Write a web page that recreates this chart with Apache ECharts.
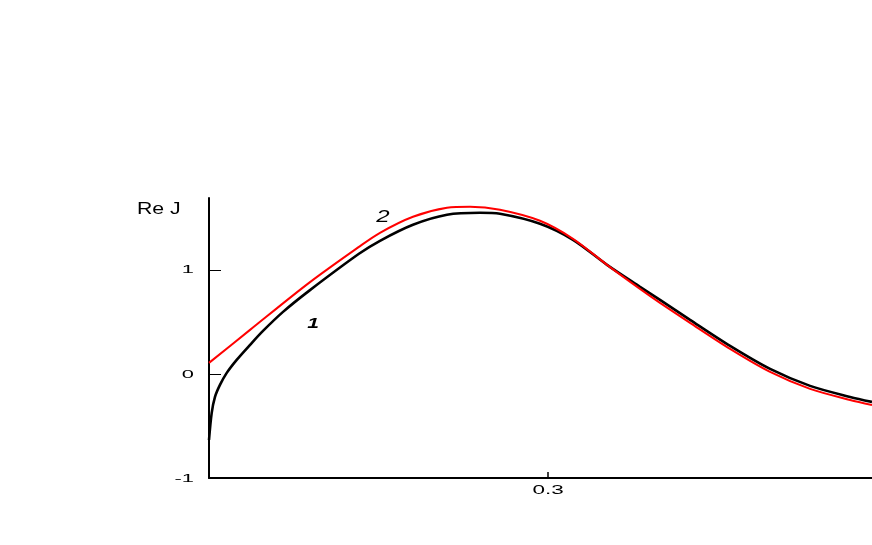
<!DOCTYPE html>
<html>
<head>
<meta charset="utf-8">
<script src="https://cdn.jsdelivr.net/npm/echarts@6/dist/echarts.min.js"></script>
<style>html,body{margin:0;padding:0;background:#fff}#c{width:872px;height:545px}</style>
</head>
<body>
<div id="c"></div>
<script>
// Curve 1 (black)
var x1 = [0, 0.0024, 0.0053, 0.0097, 0.0157, 0.0245, 0.0363, 0.0478, 0.0655, 0.0885, 0.1327, 0.1513, 0.1805, 0.2106, 0.2398, 0.2575, 0.2929, 0.3221, 0.3522, 0.3814, 0.3991, 0.4257, 0.4611, 0.4965, 0.5319, 0.5673, 0.5867];
var y1 = [-0.635, -0.375, -0.221, -0.106, 0.010, 0.135, 0.279, 0.413, 0.596, 0.798, 1.154, 1.279, 1.433, 1.529, 1.548, 1.538, 1.442, 1.288, 1.048, 0.837, 0.712, 0.519, 0.269, 0.048, -0.115, -0.221, -0.269];
// Curve 2 (red)
var x2 = [0, 0.0363, 0.0885, 0.1327, 0.1513, 0.1805, 0.2106, 0.2310, 0.2575, 0.2929, 0.3221, 0.3522, 0.3814, 0.3991, 0.4257, 0.4611, 0.4965, 0.5319, 0.5673, 0.5867];
var y2 = [0.106, 0.423, 0.875, 1.221, 1.356, 1.510, 1.596, 1.606, 1.577, 1.471, 1.298, 1.048, 0.817, 0.683, 0.490, 0.240, 0.019, -0.144, -0.250, -0.298];
var xTicks = [0.3];
var xTickLabels = ['0.3'];
var yTicks = [-1, 0, 1];
var yTickLabels = ['-1', '0', '1'];
var yName = 'Re J';
var curveNames = ['1', '2'];

function pairs(xs, ys){ return xs.map(function(x,i){ return [x, ys[i]]; }); }

var chart = echarts.init(document.getElementById('c'), null, {renderer:'canvas'});
var font = 'Liberation Sans, Arial, sans-serif';
chart.setOption({
  animation:false,
  backgroundColor:'#fff',
  grid:{left:209, top:198, right:0, bottom:67, containLabel:false},
  xAxis:{
    type:'value', min:0, max:0.5867,
    axisLine:{show:true, onZero:false, lineStyle:{color:'#000', width:2}},
    axisTick:{show:true, inside:true, length:6, lineStyle:{color:'#000', width:1.5}, customValues:xTicks},
    axisLabel:{show:false},
    splitLine:{show:false}
  },
  yAxis:{
    type:'value', min:-1, max:1.69,
    axisLine:{show:true, onZero:false, lineStyle:{color:'#000', width:2}},
    axisTick:{show:true, inside:true, length:12, lineStyle:{color:'#000', width:1}, customValues:yTicks},
    axisLabel:{show:false},
    splitLine:{show:false}
  },
  series:[
    {type:'line', data:pairs(x1,y1), smooth:0.3, showSymbol:false, lineStyle:{color:'#000', width:2.6}, z:2},
    {type:'line', data:pairs(x2,y2), smooth:0.3, showSymbol:false, lineStyle:{color:'#f00', width:2}, z:3}
  ]
});

var g = [];
xTicks.forEach(function(v,i){
  var p = chart.convertToPixel({gridIndex:0}, [v, -1]);
  g.push({type:'text', x:p[0], y:p[1]+13, scaleX:1.8, style:{text:xTickLabels[i], x:0, y:0, align:'center', verticalAlign:'middle', fontFamily:font, fontSize:12.5, fill:'#000'}});
});
yTicks.forEach(function(v,i){
  var p = chart.convertToPixel({gridIndex:0}, [0, v]);
  g.push({type:'text', x:p[0]-15, y:p[1]+0.5, scaleX:1.9, style:{text:yTickLabels[i], x:0, y:0, align:'right', verticalAlign:'middle', fontFamily:font, fontSize:11.5, fill:'#000'}});
});
g.push({type:'text', x:137, y:209.5, scaleX:1.33, style:{text:yName, x:0, y:0, align:'left', verticalAlign:'middle', fontFamily:font, fontSize:16, fill:'#000'}});
g.push({type:'text', x:313, y:324, scaleX:1.4, style:{text:curveNames[0], x:0, y:0, align:'center', verticalAlign:'middle', fontFamily:font, fontSize:15, fontStyle:'italic', fontWeight:'bold', fill:'#000'}});
g.push({type:'text', x:383, y:218, scaleX:1.5, style:{text:curveNames[1], x:0, y:0, align:'center', verticalAlign:'middle', fontFamily:font, fontSize:16, fontStyle:'italic', fill:'#000'}});
chart.setOption({graphic:g});
</script>
</body>
</html>
